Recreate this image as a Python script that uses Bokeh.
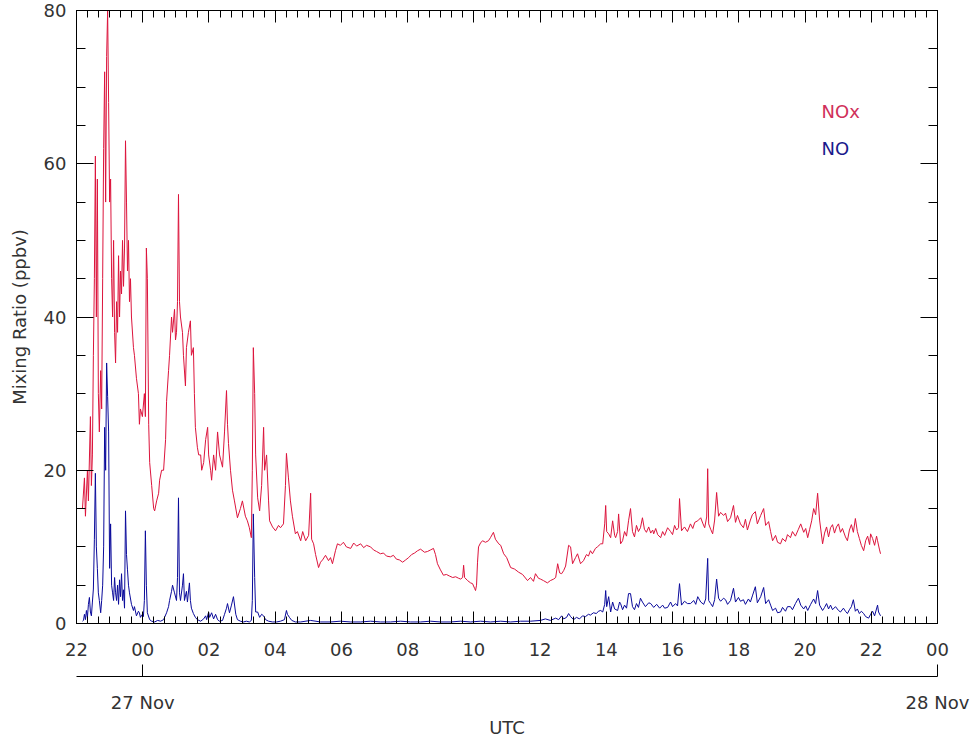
from bokeh.plotting import figure
from bokeh.models import LinearAxis, FixedTicker, Label, Range1d
from bokeh.embed import file_html
from bokeh.resources import INLINE

# ---------------- data (time in hours UTC relative to 27 Nov 00:00) ----------------
hour_ticks = [-2, 0, 2, 4, 6, 8, 10, 12, 14, 16, 18, 20, 22, 24]
hour_labels = ["22", "00", "02", "04", "06", "08", "10", "12", "14", "16", "18", "20", "22", "00"]
date_ticks = [0, 24]
date_labels = ["27 Nov", "28 Nov"]
ppbv_ticks = [0, 20, 40, 60, 80]

nox_time = [
    -1.82, -1.76, -1.73, -1.67, -1.64, -1.58, -1.55, -1.52, -1.49, -1.46,
    -1.43, -1.40, -1.37, -1.34, -1.31, -1.27, -1.24, -1.21, -1.18, -1.15,
    -1.12, -1.09, -1.06, -1.03, -1.00, -0.97, -0.94, -0.91, -0.88, -0.85,
    -0.82, -0.79, -0.76, -0.73, -0.70, -0.67, -0.64, -0.61, -0.58, -0.55,
    -0.52, -0.49, -0.46, -0.43, -0.40, -0.37, -0.34, -0.28, -0.25, -0.19,
    -0.13, -0.10, -0.07, -0.01, 0.05, 0.08, 0.11, 0.14, 0.18, 0.21,
    0.27, 0.33, 0.36, 0.42, 0.48, 0.51, 0.57, 0.63, 0.69, 0.72,
    0.78, 0.81, 0.87, 0.90, 0.96, 0.99, 1.02, 1.05, 1.08, 1.11,
    1.14, 1.20, 1.23, 1.29, 1.32, 1.38, 1.44, 1.47, 1.53, 1.56,
    1.59, 1.65, 1.69, 1.75, 1.78, 1.84, 1.90, 1.96, 1.99, 2.05,
    2.08, 2.14, 2.20, 2.26, 2.32, 2.41, 2.47, 2.53, 2.56, 2.59,
    2.65, 2.71, 2.77, 2.86, 2.95, 3.01, 3.10, 3.16, 3.22, 3.28,
    3.31, 3.34, 3.38, 3.41, 3.47, 3.53, 3.59, 3.65, 3.68, 3.74,
    3.80, 3.83, 3.92, 4.01, 4.10, 4.16, 4.25, 4.31, 4.34, 4.40,
    4.46, 4.52, 4.61, 4.67, 4.77, 4.83, 4.92, 5.01, 5.07, 5.10,
    5.16, 5.22, 5.31, 5.37, 5.43, 5.52, 5.61, 5.67, 5.73, 5.82,
    5.88, 5.97, 6.06, 6.15, 6.28, 6.37, 6.46, 6.58, 6.67, 6.76,
    6.88, 6.97, 7.06, 7.18, 7.27, 7.36, 7.48, 7.57, 7.66, 7.75,
    7.85, 7.94, 8.03, 8.12, 8.21, 8.30, 8.39, 8.51, 8.60, 8.69,
    8.78, 8.84, 8.90, 8.99, 9.08, 9.17, 9.26, 9.36, 9.45, 9.54,
    9.60, 9.66, 9.69, 9.72, 9.81, 9.90, 9.96, 10.02, 10.05, 10.08,
    10.11, 10.14, 10.20, 10.26, 10.35, 10.44, 10.50, 10.59, 10.65, 10.75,
    10.81, 10.90, 10.99, 11.11, 11.23, 11.35, 11.47, 11.62, 11.71, 11.80,
    11.86, 11.95, 12.01, 12.10, 12.22, 12.31, 12.41, 12.47, 12.53, 12.59,
    12.65, 12.71, 12.77, 12.86, 12.92, 12.98, 13.07, 13.13, 13.22, 13.31,
    13.40, 13.46, 13.52, 13.58, 13.67, 13.73, 13.83, 13.89, 13.95, 13.98,
    14.01, 14.07, 14.13, 14.19, 14.25, 14.28, 14.34, 14.37, 14.43, 14.49,
    14.55, 14.61, 14.67, 14.73, 14.79, 14.85, 14.91, 14.97, 15.03, 15.09,
    15.15, 15.21, 15.28, 15.34, 15.40, 15.43, 15.49, 15.55, 15.64, 15.70,
    15.76, 15.85, 15.94, 16.00, 16.06, 16.12, 16.18, 16.21, 16.27, 16.36,
    16.45, 16.54, 16.61, 16.67, 16.76, 16.85, 16.91, 16.97, 17.03, 17.06,
    17.09, 17.15, 17.21, 17.27, 17.33, 17.39, 17.45, 17.54, 17.60, 17.66,
    17.75, 17.84, 17.90, 17.96, 18.05, 18.14, 18.20, 18.26, 18.35, 18.41,
    18.50, 18.56, 18.66, 18.75, 18.81, 18.90, 18.96, 19.02, 19.11, 19.17,
    19.26, 19.32, 19.41, 19.47, 19.56, 19.62, 19.71, 19.80, 19.87, 19.96,
    20.02, 20.08, 20.14, 20.20, 20.26, 20.32, 20.38, 20.44, 20.53, 20.59,
    20.65, 20.71, 20.77, 20.83, 20.89, 20.95, 21.01, 21.07, 21.13, 21.22,
    21.28, 21.34, 21.40, 21.46, 21.52, 21.58, 21.64, 21.70, 21.77, 21.83,
    21.89, 21.95, 21.98, 22.04, 22.10, 22.16, 22.19, 22.25, 22.28,
]
nox_ppbv = [
    15, 19, 14, 20, 16, 27, 18, 22, 35, 45,
    61, 40, 58, 30, 25, 33, 28, 45, 62, 72,
    55, 74, 80, 68, 55, 58, 45, 40, 50, 38,
    34, 42, 38, 48, 40, 46, 43, 50, 44, 49,
    63, 55, 46, 50, 42, 45, 40, 36, 35, 32,
    30, 26, 28, 27, 30, 27, 49, 45, 26, 21,
    18, 15, 14.7, 16, 17, 18.7, 20, 20, 24, 29,
    33, 35, 40, 38, 41, 37, 38, 42, 56, 42,
    40, 38, 35, 31, 36, 38, 39.5, 35, 36, 30,
    25.6, 23, 22, 22, 20, 21, 24, 25.6, 22, 20,
    18.7, 22, 20, 25, 22, 20.4, 25, 30.4, 26, 23.5,
    20, 17.4, 16, 13.8, 15, 16, 14, 13.4, 12.5, 11.2,
    20, 36, 30, 22, 16.4, 14.7, 18, 25.6, 20, 22,
    16, 13.4, 12.6, 12.1, 12.8, 12.5, 13, 18, 22.2, 19,
    16, 14, 11.7, 12, 10.8, 12, 10.8, 11.5, 17, 11,
    10.4, 9, 7.3, 8, 8.3, 8.9, 8.2, 8.6, 7.8, 9.5,
    10.4, 10.2, 10.6, 10, 9.8, 10.5, 10.1, 10.4, 9.9, 10.2,
    10, 9.6, 9.4, 9.1, 9.2, 8.8, 8.7, 8.9, 8.4, 8.3,
    8, 8.3, 8.6, 9, 9.2, 9.5, 9.7, 9.3, 9.4, 9.6,
    9.8, 9.0, 7.8, 7, 6.3, 6.4, 6.2, 6, 6.1, 5.9,
    5.8, 6, 7.6, 6, 5.6, 5.3, 5.2, 4.6, 4.3, 5,
    8, 10, 10.5, 10.8, 10.6, 10.8, 11.2, 11.9, 11, 10.4,
    10.2, 9.1, 8.6, 7.3, 7.1, 6.7, 6.4, 5.6, 6, 5.5,
    6.5, 5.9, 5.8, 5.6, 5.3, 5.6, 5.8, 6, 7.8, 6.6,
    6.5, 6.9, 7.5, 10.2, 10, 7.8, 8.6, 9.1, 7.8, 8.2,
    9, 8.8, 9.5, 9.1, 9.8, 10, 10.4, 10.4, 13, 15.4,
    12, 11.7, 11.2, 13.4, 11.5, 11.2, 12, 14.3, 10.4, 10.8,
    12, 11.4, 13.4, 15, 12, 11.3, 12.8, 12, 12.5, 13.8,
    12.3, 11.9, 12.6, 11.8, 12.2, 11.7, 12.4, 11.6, 11.2, 12,
    11.5, 12.5, 12, 11.6, 12.8, 12.2, 12.5, 16.3, 12.1, 12.6,
    12, 13, 12.4, 13.2, 13.4, 13.8, 13.1, 12.5, 13.9, 20.2,
    13, 12.3, 11.7, 13.5, 17.1, 14, 14.5, 14.1, 14.4, 13.3,
    13.8, 15.4, 13.2, 14.1, 13, 12.5, 13.6, 12.2, 13.5, 14.2,
    14.6, 13, 14.1, 15, 12.8, 13.3, 12, 10.8, 11.5, 10.6,
    10.4, 11.1, 10.7, 11.6, 11.2, 12, 11.4, 12.3, 13, 11.9,
    12.4, 11.2, 12.3, 13.4, 15, 14.2, 17, 13.5, 10.4, 11.8,
    12.6, 11.3, 12.5, 12.9, 11.8, 12.6, 13, 11.9, 12.4, 11.3,
    10.8, 12.2, 12.9, 11.9, 13.7, 12, 11.1, 10.2, 9.5, 10.8,
    11.4, 10.3, 11.7, 11.1, 10.2, 11.4, 10.8, 9.6, 9.1,
]

no_time = [
    -1.82, -1.79, -1.76, -1.73, -1.70, -1.67, -1.64, -1.61, -1.58, -1.55,
    -1.52, -1.49, -1.46, -1.43, -1.40, -1.37, -1.34, -1.31, -1.27, -1.24,
    -1.21, -1.18, -1.15, -1.12, -1.09, -1.06, -1.03, -1.00, -0.97, -0.94,
    -0.91, -0.88, -0.85, -0.82, -0.79, -0.76, -0.73, -0.70, -0.67, -0.64,
    -0.61, -0.58, -0.55, -0.52, -0.49, -0.46, -0.43, -0.40, -0.34, -0.28,
    -0.25, -0.19, -0.13, -0.10, -0.07, -0.01, 0.02, 0.05, 0.08, 0.11,
    0.14, 0.21, 0.27, 0.36, 0.45, 0.54, 0.63, 0.72, 0.78, 0.81,
    0.87, 0.90, 0.96, 1.02, 1.05, 1.08, 1.11, 1.14, 1.20, 1.23,
    1.26, 1.32, 1.35, 1.41, 1.44, 1.47, 1.53, 1.59, 1.65, 1.75,
    1.84, 1.90, 1.93, 1.99, 2.02, 2.08, 2.14, 2.20, 2.26, 2.32,
    2.41, 2.47, 2.53, 2.56, 2.62, 2.68, 2.74, 2.81, 2.86, 2.95,
    3.04, 3.13, 3.22, 3.28, 3.31, 3.34, 3.38, 3.41, 3.47, 3.53,
    3.59, 3.65, 3.71, 3.80, 3.92, 4.04, 4.16, 4.28, 4.34, 4.37,
    4.43, 4.50, 4.61, 4.77, 5.07, 5.37, 5.67, 5.97, 6.28, 6.58,
    6.88, 7.18, 7.48, 7.79, 8.09, 8.39, 8.69, 8.99, 9.29, 9.60,
    9.90, 10.20, 10.50, 10.81, 11.11, 11.41, 11.71, 12.01, 12.16, 12.31,
    12.47, 12.56, 12.65, 12.71, 12.80, 12.86, 12.92, 13.01, 13.10, 13.19,
    13.28, 13.37, 13.46, 13.52, 13.61, 13.70, 13.76, 13.83, 13.89, 13.95,
    13.98, 14.01, 14.07, 14.13, 14.19, 14.25, 14.34, 14.40, 14.43, 14.49,
    14.55, 14.61, 14.67, 14.73, 14.79, 14.85, 14.91, 14.97, 15.03, 15.09,
    15.18, 15.28, 15.34, 15.43, 15.52, 15.61, 15.70, 15.76, 15.85, 15.94,
    16.00, 16.09, 16.15, 16.21, 16.27, 16.36, 16.45, 16.54, 16.64, 16.70,
    16.76, 16.85, 16.94, 17.00, 17.06, 17.09, 17.15, 17.21, 17.27, 17.33,
    17.39, 17.45, 17.54, 17.60, 17.66, 17.75, 17.84, 17.90, 17.99, 18.05,
    18.14, 18.20, 18.29, 18.35, 18.41, 18.50, 18.56, 18.66, 18.75, 18.81,
    18.90, 18.96, 19.02, 19.11, 19.17, 19.26, 19.32, 19.41, 19.47, 19.56,
    19.62, 19.71, 19.80, 19.87, 19.96, 20.02, 20.08, 20.17, 20.26, 20.32,
    20.38, 20.44, 20.53, 20.59, 20.65, 20.71, 20.77, 20.83, 20.92, 21.01,
    21.07, 21.16, 21.22, 21.28, 21.34, 21.40, 21.46, 21.52, 21.58, 21.64,
    21.70, 21.77, 21.83, 21.92, 21.98, 22.04, 22.10, 22.19, 22.22, 22.28,
]
no_ppbv = [
    0.3, 0.4, 1.2, 0.5, 1.7, 0.8, 2.5, 3.4, 1.5, 1,
    2.8, 4.5, 11, 19.6, 10, 7.2, 4, 3, 1.4, 3,
    5, 10, 25.6, 20, 34, 29.6, 25, 7.2, 13, 5,
    4, 3, 6, 4, 3, 5, 2.5, 5.7, 3.5, 6.5,
    3, 4.4, 2, 14.7, 9, 7, 5, 4, 2.5, 1.7,
    2.2, 1, 1.6, 1.4, 0.8, 1.2, 0.9, 3, 12.1, 5,
    1.4, 0.5, 0.3, 0.2, 0.4, 0.3, 0.5, 1.4, 2.2, 3,
    4.2, 5, 4, 3, 6, 16.4, 4, 3, 5, 6.5,
    3, 4.2, 2.8, 5.3, 3, 2, 1.3, 0.8, 0.5, 0.3,
    0.6, 1, 0.5, 1.5, 0.8, 1.4, 0.6, 1.2, 0.5, 0.3,
    0.4, 1.2, 2, 2.6, 1.4, 2.4, 3.5, 1.2, 0.5, 0.3,
    0.2, 0.3, 0.2, 0.4, 3, 14.3, 6, 1.5, 1.5, 0.8,
    1.2, 1, 0.5, 0.3, 0.2, 0.2, 0.3, 0.5, 1.7, 1.2,
    0.8, 0.4, 0.2, 0.2, 0.4, 0.2, 0.2, 0.3, 0.2, 0.2,
    0.3, 0.2, 0.2, 0.3, 0.2, 0.2, 0.3, 0.2, 0.2, 0.3,
    0.2, 0.3, 0.2, 0.3, 0.2, 0.3, 0.3, 0.4, 0.6, 0.4,
    0.7, 0.5, 1, 0.6, 0.8, 1.3, 0.9, 0.5, 0.8, 0.6,
    1, 0.9, 1.2, 1.1, 1.4, 1.3, 1.6, 1.7, 1.5, 2.5,
    4.3, 2.2, 3.5, 1.5, 2.8, 1.9, 1.7, 2.8, 2.6, 1.8,
    2.4, 2, 3.9, 3.9, 2.2, 1.8, 2.6, 2.1, 3.3, 2.8,
    2.2, 2.7, 2.6, 2.1, 2.5, 2, 2.4, 2, 2.1, 2.8,
    2.2, 2.6, 2.3, 5.2, 2.4, 2.9, 2.6, 2.6, 3, 2.5,
    3.5, 2.8, 2.5, 3.2, 8.5, 3, 2.6, 2.2, 3.1, 5.8,
    3.3, 2.9, 3.3, 3.1, 2.5, 3, 4.6, 2.8, 3.4, 2.9,
    3.1, 2.5, 3.2, 2.8, 3.6, 4.8, 2.7, 3.5, 4.7, 2.6,
    3.1, 2.4, 1.7, 2, 1.4, 1.5, 2.1, 1.6, 2.2, 2.2,
    1.8, 2.6, 3.3, 2.4, 1.9, 2.3, 1.7, 2.5, 3.2, 2.6,
    4.3, 2.4, 1.7, 2.1, 2.6, 1.9, 2.4, 1.8, 2.2, 1.7,
    1.5, 2, 1.6, 1.3, 1.8, 2.2, 3.1, 1.6, 1.9, 1.3,
    1.6, 1.3, 0.9, 0.7, 1.2, 1.6, 1, 2.4, 1.5, 1,
]

series_names = ["NOx", "NO"]
series_colors = ["#DC143C", "#0A0A9A"]

# ---------------- figure ----------------
FONT = "DejaVu Sans"
TEXT = "#333333"

p = figure(frame_width=861, frame_height=613,
           x_range=Range1d(-2, 24), y_range=Range1d(0, 80),
           x_axis_location=None, y_axis_location=None,
           output_backend="svg", toolbar_location=None,
           min_border_left=76, min_border_right=36,
           min_border_top=10, min_border_bottom=104)
p.grid.visible = False
p.outline_line_color = "black"
p.outline_line_width = 1
p.background_fill_color = "white"
p.border_fill_color = "white"

x_minor = [-2 + i / 3 for i in range(79)]
y_minor = [i * 5 for i in range(17)]


def style(ax, maj, mnr):
    ax.axis_line_color = "black"
    ax.major_tick_line_color = "black"
    ax.minor_tick_line_color = "black"
    ax.major_tick_in = maj
    ax.major_tick_out = 0
    ax.minor_tick_in = mnr
    ax.minor_tick_out = 0
    ax.major_label_text_font = FONT
    ax.major_label_text_font_size = "18px"
    ax.major_label_text_color = TEXT
    ax.axis_label_text_font = FONT
    ax.axis_label_text_font_size = "18px"
    ax.axis_label_text_color = TEXT
    ax.axis_label_text_font_style = "normal"


# main time axis (bottom)
xa = LinearAxis(ticker=FixedTicker(ticks=hour_ticks, minor_ticks=x_minor),
                major_label_overrides={t: l for t, l in zip(hour_ticks, hour_labels)},
                major_label_standoff=19, axis_label=" ", axis_label_standoff=0)
style(xa, 12, 7)
xa.axis_label_text_font_size = "13px"
p.add_layout(xa, "below")

# date axis (second row below)
da = LinearAxis(ticker=FixedTicker(ticks=date_ticks, minor_ticks=[]),
                major_label_overrides={t: l for t, l in zip(date_ticks, date_labels)},
                major_label_standoff=15, axis_label="UTC", axis_label_standoff=1)
style(da, 12, 0)
p.add_layout(da, "below")

# top mirror axis (ticks only)
ta = LinearAxis(ticker=FixedTicker(ticks=hour_ticks, minor_ticks=x_minor),
                major_label_overrides={t: "" for t in hour_ticks},
                major_label_standoff=0)
style(ta, 12, 7)
ta.major_label_text_font_size = "1px"
p.add_layout(ta, "above")

# left axis
ya = LinearAxis(ticker=FixedTicker(ticks=ppbv_ticks, minor_ticks=y_minor),
                major_label_standoff=10, axis_label="Mixing Ratio (ppbv)",
                axis_label_standoff=11)
style(ya, 17, 9)
p.add_layout(ya, "left")

# right mirror axis (ticks only)
ra = LinearAxis(ticker=FixedTicker(ticks=ppbv_ticks, minor_ticks=y_minor),
                major_label_overrides={t: "" for t in ppbv_ticks},
                major_label_standoff=0)
style(ra, 17, 9)
ra.major_label_text_font_size = "1px"
p.add_layout(ra, "right")

# series
p.line(nox_time, nox_ppbv, line_color=series_colors[0], line_width=1)
p.line(no_time, no_ppbv, line_color=series_colors[1], line_width=1)

# in-plot labels
p.add_layout(Label(x=20.5, y=66.8, text=series_names[0], text_color="#D0305A",
                   text_font=FONT, text_font_size="18px", text_baseline="middle"))
p.add_layout(Label(x=20.5, y=62.0, text=series_names[1], text_color="#1A1A8C",
                   text_font=FONT, text_font_size="18px", text_baseline="middle"))

open("out.html", "w").write(file_html(p, INLINE))
